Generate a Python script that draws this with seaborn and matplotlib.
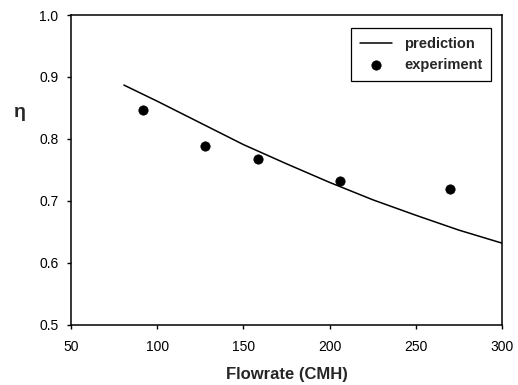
import matplotlib
matplotlib.use("Agg")
import matplotlib.pyplot as plt
import seaborn as sns
import pandas as pd

pred_x = [80.7, 100, 125, 150, 175, 200, 225, 250, 275, 300]
pred_y = [0.887, 0.861, 0.826, 0.791, 0.760, 0.730, 0.702, 0.677, 0.653, 0.632]
exp_x = [91.6, 127.7, 158.7, 206.0, 269.8]
exp_y = [0.846, 0.789, 0.768, 0.733, 0.719]
x_ticks = [50, 100, 150, 200, 250, 300]
y_ticks = [0.5, 0.6, 0.7, 0.8, 0.9, 1.0]

sns.set_theme(style="ticks")
plt.rcParams['font.family'] = ['Liberation Sans', 'DejaVu Sans']

fig = plt.figure(figsize=(5.18, 3.85), dpi=100)
ax = fig.add_axes([0.137, 0.156, 0.832, 0.805])

pred = pd.DataFrame({"x": pred_x, "y": pred_y})
exp = pd.DataFrame({"x": exp_x, "y": exp_y})
sns.lineplot(data=pred, x="x", y="y", ax=ax, color="black", lw=1.1, label="prediction")
sns.scatterplot(data=exp, x="x", y="y", ax=ax, color="black", s=45, edgecolor="black",
                label="experiment", zorder=3)

ax.set_xlim(50, 300)
ax.set_ylim(0.5, 1.0)
ax.set_xticks(x_ticks)
ax.set_yticks(y_ticks)
ax.set_xticklabels([str(t) for t in x_ticks])
ax.set_yticklabels([f"{t:.1f}" for t in y_ticks])
ax.tick_params(axis="both", direction="out", length=3, width=1, colors="black",
               labelsize=10)
ax.tick_params(axis="x", pad=8)
ax.tick_params(axis="y", pad=6)
for s in ax.spines.values():
    s.set_color("black")
    s.set_linewidth(1.1)
ax.set_xlabel("Flowrate (CMH)", fontsize=12, fontweight="bold", va="center")
ax.xaxis.set_label_coords(0.5, -0.161)
ax.set_ylabel("η", fontsize=14, fontweight="bold", rotation=0, va="center", ha="center")
ax.yaxis.set_label_coords(-0.118, 0.687)

leg = ax.legend(loc="upper right", bbox_to_anchor=(0.9745, 0.958), borderaxespad=0,
                frameon=True, fancybox=False,
                edgecolor="black", prop={"weight": "bold", "size": 10.5},
                handlelength=2.2, handletextpad=0.8, borderpad=0.6, labelspacing=0.5,
                framealpha=1)
leg.get_frame().set_linewidth(0.9)

fig.savefig("out.png", dpi=100)
